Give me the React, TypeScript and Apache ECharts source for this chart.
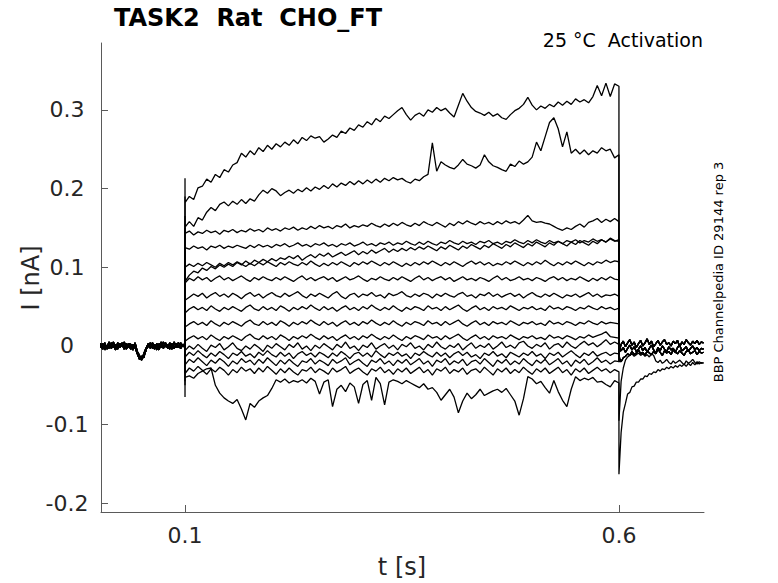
import React, { useEffect, useRef } from "react";
import * as echarts from "echarts";

// current values in thousandths of nA
// pre-step baseline, sampled every 2.5 ms from 2.5 ms
const baseA = [3, -4, 2, -2, 5, -3, 1, -5, 4, -1, 2, -4, 3, -2, 0, -5, 2, -9, -14, -16, -12, -6, 3, -3, 4, -2, 1, -5, 3, -1, 4, -3, 2, -4, 5, -2, 0, -3, 2];
const baseB = [-2, 3, -5, 1, -3, 4, -2, 2, -4, 3, -1, 5, -3, 1, -4, 2, -2, -10, -17, -13, -15, -4, -1, 4, -3, 2, -5, 3, -2, 5, -1, 2, -4, 3, -3, 1, 4, -2, 1];
const baseC = [1, -1, 4, -4, 2, -1, 5, -3, 0, -2, 4, -1, -4, 3, 2, -3, 4, -7, -12, -18, -10, -3, 2, -2, 1, -4, 3, -1, 5, -3, 2, -2, 4, -1, -3, 3, -2, 4, -1];

// during the step (0.1 s .. 0.6 s), sampled every 5 ms
const trace01 = [182, 190, 186, 201, 203, 212, 208, 218, 214, 224, 221, 230, 233, 245, 240, 248, 243, 252, 247, 255, 250, 257, 253, 259, 255, 262, 257, 265, 261, 267, 264, 266, 259, 263, 268, 265, 273, 270, 277, 274, 281, 278, 285, 281, 289, 285, 292, 289, 294, 299, 303, 294, 287, 293, 296, 292, 300, 297, 303, 299, 302, 296, 291, 306, 321, 311, 303, 298, 296, 293, 297, 292, 295, 290, 288, 294, 299, 302, 307, 316, 306, 300, 305, 302, 307, 304, 310, 306, 311, 307, 314, 310, 313, 309, 317, 331, 318, 334, 317, 333, 330];
const trace02 = [151, 158, 152, 163, 160, 170, 176, 172, 180, 183, 178, 184, 180, 186, 181, 187, 184, 192, 198, 194, 200, 197, 191, 195, 198, 194, 199, 196, 201, 197, 202, 199, 204, 200, 206, 202, 207, 204, 209, 205, 210, 206, 211, 207, 212, 208, 213, 210, 214, 211, 213, 209, 207, 212, 210, 215, 218, 258, 222, 234, 230, 227, 225, 230, 237, 231, 229, 226, 230, 243, 234, 229, 227, 224, 222, 231, 228, 235, 231, 234, 240, 259, 248, 266, 284, 290, 276, 253, 272, 245, 250, 244, 249, 243, 248, 245, 252, 248, 250, 239, 243];
const trace03 = [143, 146, 141, 145, 143, 147, 144, 146, 142, 147, 145, 148, 144, 147, 145, 149, 146, 148, 145, 150, 147, 149, 146, 150, 148, 151, 147, 150, 148, 152, 149, 153, 150, 152, 149, 153, 151, 155, 150, 153, 151, 154, 152, 156, 153, 151, 155, 152, 156, 153, 157, 154, 152, 156, 153, 158, 155, 153, 157, 154, 151, 156, 153, 158, 155, 159, 156, 154, 158, 155, 157, 154, 158, 155, 159, 156, 158, 155, 160, 166, 159, 157, 158, 156, 155, 152, 149, 147, 150, 148, 152, 155, 151, 157, 159, 162, 157, 161, 158, 162, 158];
const trace04 = [125, 123, 127, 124, 126, 122, 127, 125, 128, 124, 127, 125, 128, 126, 124, 128, 125, 129, 126, 128, 125, 129, 127, 130, 126, 128, 131, 127, 129, 126, 130, 128, 131, 127, 129, 126, 130, 128, 131, 127, 129, 132, 128, 130, 127, 131, 129, 132, 128, 131, 129, 133, 130, 128, 132, 129, 133, 130, 128, 132, 130, 134, 131, 129, 133, 130, 132, 129, 133, 131, 134, 130, 132, 129, 133, 131, 135, 132, 130, 134, 131, 135, 132, 130, 134, 131, 133, 130, 134, 132, 135, 131, 134, 132, 136, 133, 135, 132, 137, 134, 133];
const trace05 = [82, 90, 95, 93, 99, 96, 101, 98, 103, 100, 104, 101, 106, 103, 108, 104, 109, 106, 110, 107, 111, 108, 112, 110, 114, 111, 115, 109, 113, 116, 112, 117, 114, 118, 113, 116, 119, 115, 118, 121, 116, 120, 117, 122, 118, 121, 124, 119, 123, 120, 124, 121, 125, 122, 126, 123, 127, 124, 121, 126, 123, 128, 125, 122, 127, 124, 129, 126, 123, 128, 125, 130, 127, 124, 129, 126, 131, 128, 125, 130, 127, 132, 129, 126, 131, 128, 133, 130, 127, 132, 129, 134, 131, 128, 133, 130, 135, 132, 136, 133, 135];
const trace06 = [100, 104, 101, 105, 102, 106, 103, 100, 105, 102, 106, 103, 107, 104, 101, 105, 102, 106, 103, 107, 104, 101, 106, 103, 107, 104, 102, 106, 103, 108, 104, 101, 105, 102, 106, 103, 107, 104, 101, 106, 103, 107, 104, 108, 105, 102, 106, 103, 107, 104, 101, 105, 102, 106, 103, 107, 104, 108, 105, 102, 106, 103, 107, 104, 101, 105, 108, 104, 107, 103, 106, 102, 105, 103, 107, 104, 108, 105, 102, 106, 103, 107, 104, 109, 105, 102, 106, 103, 107, 104, 108, 105, 102, 106, 103, 107, 105, 109, 106, 108, 107];
const trace07 = [80, 86, 83, 88, 84, 87, 82, 86, 89, 84, 87, 83, 86, 89, 85, 82, 87, 84, 88, 85, 83, 87, 84, 88, 85, 82, 86, 89, 84, 87, 83, 86, 88, 84, 87, 82, 85, 88, 84, 86, 89, 85, 82, 86, 84, 88, 85, 83, 87, 84, 88, 85, 82, 86, 89, 84, 87, 83, 86, 88, 84, 87, 82, 85, 88, 84, 86, 83, 87, 85, 82, 86, 89, 84, 87, 83, 85, 88, 84, 86, 83, 87, 85, 82, 86, 88, 84, 87, 83, 86, 84, 88, 85, 82, 86, 83, 87, 84, 88, 85, 84];
const trace08 = [58, 62, 66, 63, 67, 61, 65, 68, 63, 66, 62, 67, 64, 60, 65, 68, 63, 66, 61, 65, 68, 64, 62, 67, 63, 66, 69, 64, 61, 66, 63, 67, 64, 61, 66, 69, 63, 60, 65, 67, 62, 66, 64, 68, 63, 65, 61, 67, 64, 66, 69, 64, 62, 66, 63, 67, 65, 61, 66, 63, 67, 64, 62, 66, 68, 63, 65, 61, 66, 64, 68, 63, 66, 62, 65, 67, 63, 66, 61, 65, 68, 64, 62, 66, 63, 67, 64, 61, 65, 63, 66, 62, 65, 68, 63, 66, 62, 65, 64, 66, 63];
const trace09 = [42, 47, 50, 46, 49, 45, 51, 47, 44, 49, 46, 50, 47, 44, 49, 52, 47, 45, 50, 46, 49, 45, 51, 48, 44, 49, 46, 50, 47, 52, 48, 45, 50, 46, 49, 44, 48, 51, 46, 49, 45, 50, 47, 52, 48, 45, 49, 46, 51, 47, 44, 49, 46, 50, 48, 45, 51, 47, 49, 45, 50, 46, 49, 52, 47, 44, 48, 51, 46, 49, 45, 50, 47, 49, 46, 51, 48, 45, 49, 47, 50, 46, 48, 45, 51, 47, 49, 46, 50, 48, 45, 49, 47, 51, 48, 46, 50, 47, 49, 46, 48];
const trace10 = [24, 28, 31, 27, 30, 26, 32, 28, 25, 30, 27, 31, 28, 25, 30, 33, 28, 26, 31, 27, 30, 26, 32, 29, 25, 30, 27, 31, 28, 33, 29, 26, 31, 27, 30, 25, 29, 32, 27, 30, 26, 31, 28, 33, 29, 26, 30, 27, 32, 28, 25, 30, 27, 31, 29, 26, 32, 28, 30, 26, 31, 27, 30, 33, 28, 25, 29, 32, 27, 30, 26, 31, 28, 30, 27, 32, 29, 26, 30, 28, 31, 27, 29, 26, 32, 28, 30, 27, 31, 29, 26, 30, 28, 32, 29, 27, 31, 28, 30, 29, 28];
const trace11 = [6, 10, 13, 9, 12, 8, 14, 10, 7, 12, 9, 13, 10, 7, 12, 15, 10, 8, 13, 9, 12, 8, 14, 11, 7, 12, 9, 13, 10, 15, 11, 8, 13, 9, 12, 7, 11, 14, 9, 12, 8, 13, 10, 15, 11, 8, 12, 9, 14, 10, 7, 12, 9, 13, 11, 8, 14, 10, 12, 8, 13, 9, 12, 15, 10, 7, 11, 14, 9, 12, 8, 13, 10, 12, 9, 14, 11, 8, 12, 10, 13, 9, 11, 8, 14, 10, 12, 9, 13, 11, 8, 12, 10, 14, 11, 13, 15, 18, 12, 11, 10];
const trace12 = [-6, 0, -4, 2, -3, -7, 1, -2, 3, -5, -1, 4, -3, -6, 0, -4, 2, -2, -7, 1, -3, 3, -1, -5, 2, -2, 4, -4, 0, -6, 1, -3, 3, -1, -5, 2, -2, 5, -3, 0, -6, 1, -2, 4, -4, 0, 3, -3, 1, -5, 2, -1, 4, -3, 0, -5, 2, -2, 5, -1, -4, 1, -2, 3, -5, 0, 4, -3, 1, -2, 3, -4, 0, 5, -2, 1, -3, 4, 6, 0, -3, 2, -1, 4, -4, 1, 3, -2, 5, 0, -3, 2, 6, 1, 4, -1, 3, 8, 2, 5, 2];
const trace13 = [-14, -8, -12, -6, -11, -15, -9, -13, -7, -11, -16, -9, -12, -7, -13, -10, -15, -8, -12, -6, -11, -14, -8, -13, -9, -16, -10, -7, -12, -9, -14, -8, -11, -15, -9, -13, -7, -11, -16, -10, -8, -13, -9, -14, -6, -11, -15, -9, -12, -8, -13, -10, -16, -9, -12, -7, -11, -14, -8, -13, -9, -15, -10, -7, -12, -8, -14, -11, -16, -9, -12, -7, -13, -10, -15, -8, -11, -14, -9, -12, -7, -13, -10, -16, -9, -12, -8, -14, -10, -6, -11, -15, -9, -12, -7, -13, -10, -8, -12, -9, -10];
const trace14 = [-24, -17, -21, -15, -20, -25, -18, -22, -16, -20, -26, -19, -23, -16, -21, -18, -24, -17, -22, -15, -20, -25, -18, -23, -17, -22, -26, -19, -21, -16, -23, -18, -21, -25, -17, -22, -19, -15, -24, -20, -17, -22, -26, -18, -21, -16, -23, -19, -25, -18, -22, -17, -24, -20, -16, -23, -19, -26, -18, -21, -16, -24, -19, -22, -17, -25, -20, -18, -23, -16, -21, -26, -18, -22, -17, -24, -19, -23, -16, -21, -25, -18, -22, -17, -24, -20, -16, -23, -19, -26, -18, -22, -17, -24, -20, -15, -21, -18, -23, -19, -20];
const trace15 = [-35, -28, -32, -26, -31, -36, -29, -33, -27, -31, -37, -30, -34, -27, -32, -29, -35, -28, -33, -26, -31, -36, -29, -34, -28, -33, -37, -30, -32, -27, -34, -29, -32, -36, -28, -33, -30, -26, -35, -31, -28, -33, -37, -29, -32, -27, -34, -30, -36, -29, -33, -28, -35, -31, -27, -34, -30, -37, -29, -32, -27, -35, -30, -33, -28, -36, -31, -29, -34, -27, -32, -37, -29, -33, -28, -35, -30, -34, -27, -32, -36, -29, -33, -28, -35, -31, -27, -34, -30, -37, -29, -33, -28, -35, -31, -27, -32, -29, -34, -30, -33];
const trace16 = [-40, -38, -41, -35, -32, -29, -28, -50, -60, -66, -70, -73, -68, -80, -94, -73, -78, -70, -66, -63, -54, -43, -46, -42, -47, -44, -46, -43, -47, -41, -45, -61, -46, -43, -77, -55, -50, -58, -47, -52, -73, -49, -44, -69, -40, -48, -75, -46, -43, -45, -48, -44, -47, -50, -53, -48, -55, -53, -59, -69, -62, -55, -65, -85, -70, -60, -67, -62, -55, -63, -60, -57, -55, -59, -54, -62, -70, -88, -67, -39, -42, -48, -45, -53, -60, -44, -58, -69, -77, -55, -39, -44, -41, -43, -40, -46, -45, -49, -52, -44, -47];

// capacitive spikes at step onset (0.1 s) and offset (0.6 s)
const onsetPeaks = [213, 190, 165, 150, 60, 120, 100, 40, 60, 15, -10, -20, -35, -45, -50, -65];
const offsetPeaks = [-5, 0, -8, -12, 3, -10, -15, -2, -6, -18, -4, -10, -20, -8, -95, -163];

// after the step, sampled every 2.5 ms from 0.6025 s
const tailA = [2, 6, -1, 4, 8, 1, 5, -2, 3, 7, 0, 4, 9, 2, 6, -1, 3, 7, 1, 5, 8, 2, 4, 0, 6, 3, 7, -1, 5, 2, 8, 4, 1, 6, 3, 7, 2, 5, 4];
const tailB = [-6, -2, -8, -3, 1, -5, -1, -7, -4, 0, -6, -2, -8, -3, 1, -5, -9, -2, -6, 0, -4, -7, -1, -5, -3, -8, -2, 1, -6, -4, -1, -7, -3, 0, -5, -2, -6, -3, -4];
const tailC = [-20, -15, -13, -10, -12, -7, -11, -9, -5, -10, -8, -12, -6, -9, -11, -7, -10, -4, -8, -12, -6, -9, -7, -11, -5, -8, -10, -6, -9, -12, -7, -5, -10, -8, -6, -11, -7, -9, -8];
const tailD = [-110, -84, -73, -61, -59, -52, -51, -46, -46, -42, -42, -38, -39, -35, -36, -33, -34, -30, -32, -29, -30, -27, -29, -26, -28, -25, -27, -24, -26, -23, -26, -22, -25, -21, -24, -20, -23, -21, -22];
const tailE = [-45, -28, -18, -14, -12, -10, -13, -11, -9, -12, -10, -13, -11, -14, -10, -12, -19, -21, -18, -22, -20, -17, -21, -23, -19, -22, -20, -18, -21, -24, -19, -22, -20, -17, -21, -23, -20, -22, -21];

const stepTraces = [trace01, trace02, trace03, trace04, trace05, trace06, trace07, trace08, trace09, trace10, trace11, trace12, trace13, trace14, trace15, trace16];
const baselines = [baseA, baseB, baseC];
const tailOf = [tailA, tailB, tailA, tailC, tailB, tailA, tailC, tailB, tailA, tailC, tailB, tailA, tailC, tailB, tailE, tailD];

const xTicks = [0.1, 0.6];
const yTicks = [-0.2, -0.1, 0, 0.1, 0.2, 0.3];

const FONT = "DejaVu Sans";
const INK = "#262626";

function buildTrace(k: number): number[][] {
  const pts: number[][] = [];
  baselines[k % 3].forEach((v, n) => pts.push([0.0025 * (n + 1), v / 1000]));
  pts.push([0.1, 0]);
  pts.push([0.1, onsetPeaks[k] / 1000]);
  stepTraces[k].forEach((v, i) => pts.push([0.1 + 0.005 * i, v / 1000]));
  pts.push([0.6, offsetPeaks[k] / 1000]);
  tailOf[k].forEach((v, j) => pts.push([0.6 + 0.0025 * (j + 1), v / 1000]));
  return pts;
}

const App: React.FC = () => {
  const chartRef = useRef<HTMLDivElement>(null);

  useEffect(() => {
    if (!chartRef.current) return;
    const chart = echarts.init(chartRef.current, null, { renderer: "svg" });

    chart.setOption({
      animation: false,
      backgroundColor: "#ffffff",
      grid: { left: 101, right: 74, top: 43, bottom: 71 },
      xAxis: {
        type: "value",
        min: 0.0032,
        max: 0.698,
        axisLine: { show: true, onZero: false, lineStyle: { color: "#5a5a5a", width: 1 } },
        axisTick: { show: true, inside: true, length: 7, customValues: xTicks, lineStyle: { color: "#5a5a5a" } },
        axisLabel: {
          customValues: xTicks,
          formatter: (v: number) => String(v),
          color: INK,
          fontFamily: FONT,
          fontSize: 22,
          margin: 12,
        },
        splitLine: { show: false },
      },
      yAxis: {
        type: "value",
        min: -0.211,
        max: 0.385,
        axisLine: { show: true, onZero: false, lineStyle: { color: "#5a5a5a", width: 1 } },
        axisTick: { show: true, inside: true, length: 7, customValues: yTicks, lineStyle: { color: "#5a5a5a" } },
        axisLabel: {
          customValues: yTicks,
          formatter: (v: number) => (v === 0 ? "0" : String(v)),
          color: INK,
          fontFamily: FONT,
          fontSize: 22,
          align: "center",
          margin: 34,
        },
        splitLine: { show: false },
      },
      series: stepTraces.map((_, k) => ({
        type: "line",
        data: buildTrace(k),
        showSymbol: false,
        symbol: "none",
        clip: true,
        lineStyle: { color: "#000000", width: 1.3 },
        silent: true,
      })),
      graphic: [
        {
          type: "text",
          x: 114,
          y: 18,
          style: { text: "TASK2  Rat  CHO_FT", font: `bold 24px ${FONT}`, fill: "#000", verticalAlign: "middle", align: "left" },
        },
        {
          type: "text",
          x: 703,
          y: 40,
          style: { text: "25 °C  Activation", font: `19px ${FONT}`, fill: "#000", verticalAlign: "middle", align: "right" },
        },
        {
          type: "text",
          x: 402,
          y: 567,
          style: { text: "t [s]", font: `24px ${FONT}`, fill: INK, verticalAlign: "middle", align: "center" },
        },
        {
          type: "text",
          x: 31,
          y: 278,
          rotation: Math.PI / 2,
          style: { text: "I [nA]", font: `24px ${FONT}`, fill: INK, verticalAlign: "middle", align: "center" },
        },
        {
          type: "text",
          x: 718,
          y: 272,
          rotation: Math.PI / 2,
          style: { text: "BBP Channelpedia ID 29144 rep 3", font: `13px ${FONT}`, fill: "#000", verticalAlign: "middle", align: "center" },
        },
      ],
    });

    return () => {
      chart.dispose();
    };
  }, []);

  return (
    <div
      ref={chartRef}
      style={{ position: "fixed", left: 0, top: 0, width: 778, height: 583 }}
    />
  );
};

export default App;
